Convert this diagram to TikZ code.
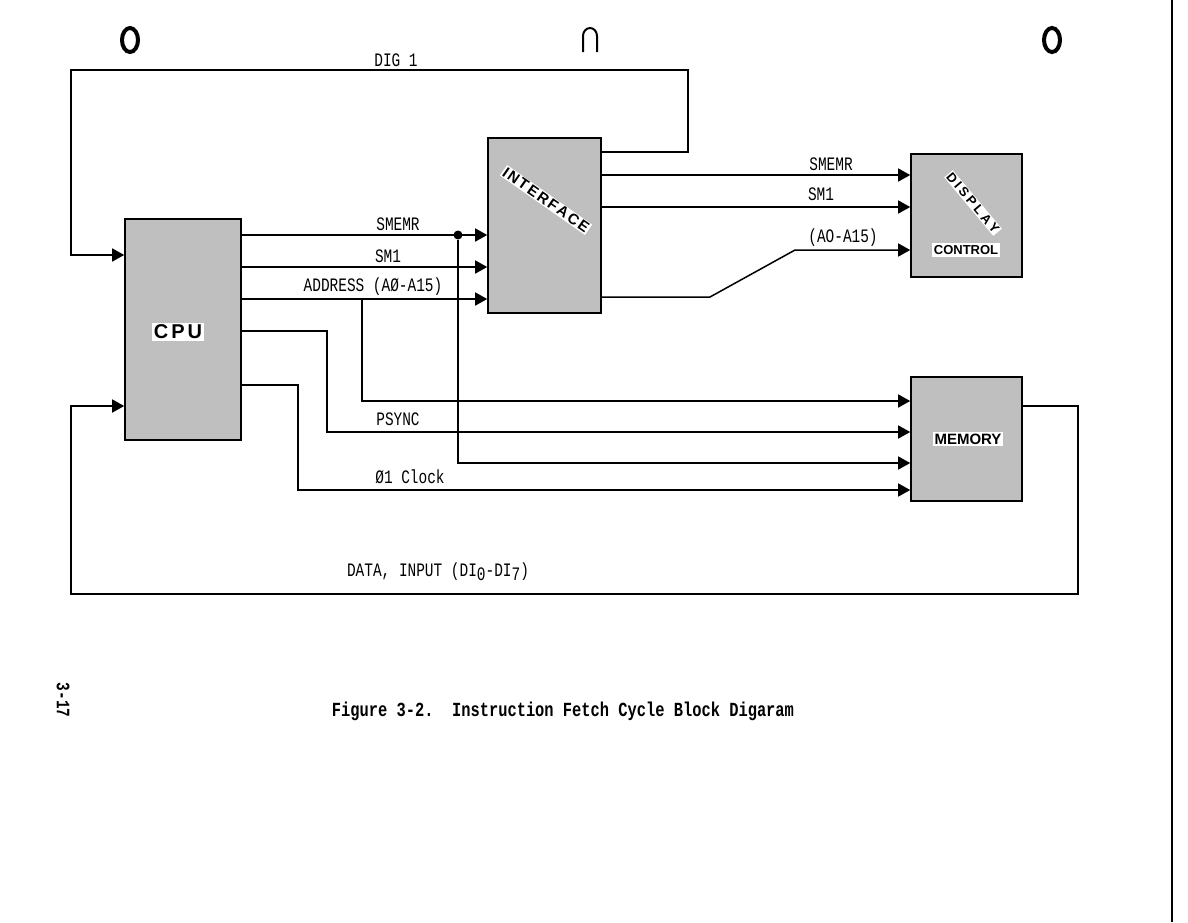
\documentclass[tikz,border=0pt]{standalone}
\usepackage{fontspec}
\setmainfont{Liberation Sans}
\newfontfamily\sigfont[FakeStretch=0.76]{Liberation Mono}
\newfontfamily\capfont[FakeStretch=0.77]{Liberation Mono}
\newfontfamily\boxfont{Liberation Sans}
\usetikzlibrary{arrows.meta,calc}

\begin{document}
\begin{tikzpicture}[x=1pt,y=-1pt,
  blk/.style={draw,line width=1.6pt,fill=black!25,inner sep=0pt},
  sig/.style={line width=1.5pt},
  arr/.style={sig,-{Triangle[length=12pt,width=13pt]}},
  lab/.style={font=\sigfont\fontsize{19}{21}\selectfont,inner sep=1pt},
  blab/.style={font=\boxfont\bfseries\fontsize{15}{17}\selectfont,fill=white,inner sep=2pt},
  hole/.style={line width=4pt}]
\useasboundingbox (0,0) rectangle (1188,922);
% punch holes and page edge
\draw[hole] (130,40) ellipse (8 and 12);
\draw[line width=2pt] (583,52) -- (583,36) arc (180:360:7 and 8) -- (597,52);
\draw[hole] (1052,40) ellipse (8 and 12);
\draw[line width=1.5pt] (1172,0) -- (1172,922);
% blocks
\node[blk,minimum width=116pt,minimum height=221pt] (cpu) at (183,329.5) {};
\node[blk,minimum width=113pt,minimum height=175pt] (intf) at (544.5,225.5) {};
\node[blk,minimum width=111pt,minimum height=123pt] (disp) at (966.5,215.5) {};
\node[blk,minimum width=111pt,minimum height=124pt] (mem) at (966.5,439) {};
\node[blab,font=\boxfont\bfseries\fontsize{20}{22}\selectfont\addfontfeature{LetterSpace=15}] (cpulab) at (178,332) {CPU};
\node[blab] (memlab) at (968,439) {MEMORY};
\node[blab,font=\boxfont\bfseries\fontsize{13}{15}\selectfont] (ctrllab) at (966,250) {CONTROL};
\node[blab,rotate=-35,inner sep=1pt] (intflab) at (546,200)
  {\foreach \ch in {I,N,T,E,R,F,A,C,E} {\ch\hspace{2pt}}\unskip};
\node[blab,rotate=-50,font=\boxfont\bfseries\fontsize{13}{15}\selectfont,inner sep=1pt] (displab) at (973,203)
  {\foreach \ch in {D,I,S,P,L,A,Y} {\ch\hspace{3pt}}\unskip};
% levels
\coordinate (ydig) at (0,152);
\coordinate (ycin) at (0,255);
\coordinate (ysmr) at (0,235);
\coordinate (ysm1) at (0,267);
\coordinate (yadr) at (0,299);
\coordinate (ydsm) at (0,175);
\coordinate (yds1) at (0,207);
\coordinate (yia) at (0,297);
\coordinate (yda) at (0,250);
\coordinate (yps) at (0,331);
\coordinate (yck) at (0,385);
\coordinate (ydat) at (0,406);
% DIG 1 loop
\coordinate (dg1) at (688,70);
\coordinate (dg2) at (71,70);
\draw[arr] (intf.east |- ydig) -| (dg1) -- (dg2) |- (cpu.west |- ycin);
\node[lab] (diglab) at (396,60) {DIG 1};
% CPU to interface
\node[circle,fill,inner sep=0pt,minimum size=9pt] (dot) at (458,235) {};
\draw[arr] (cpu.east |- ysmr) -- (intf.west |- ysmr);
\draw[arr] (cpu.east |- ysm1) -- (intf.west |- ysm1);
\draw[arr] (cpu.east |- yadr) -- (intf.west |- yadr);
\node[lab] (smrlab) at (398,224) {SMEMR};
\node[lab] (sm1lab) at (388,256) {SM1};
\node[lab] (adrlab) at (373,287) {ADDRESS (AØ-A15)};
% interface to display
\draw[arr] (intf.east |- ydsm) -- (disp.west |- ydsm);
\draw[arr] (intf.east |- yds1) -- (disp.west |- yds1);
\coordinate (bend1) at (710,297);
\coordinate (bend2) at (795,250);
\draw[arr] (intf.east |- yia) -- (bend1) -- (bend2) -- (disp.west |- yda);
\node[lab] (dsmlab) at (831,164) {SMEMR};
\node[lab] (ds1lab) at (821,194) {SM1};
\node[lab] (dalab) at (843,238) {(AO-A15)};
% to memory
\coordinate (tadr) at (362,299);
\coordinate (tps) at (327,0);
\coordinate (tck) at (298,0);
\draw[arr] (tadr) |- (mem.west |- 0,401);
\draw[arr] (cpu.east |- yps) -| (tps |- 0,432) -- (mem.west |- 0,432);
\draw[arr] (dot) |- (mem.west |- 0,463);
\draw[arr] (cpu.east |- yck) -| (tck |- 0,490) -- (mem.west |- 0,490);
\node[lab] (pslab) at (398,419) {PSYNC};
\node[lab] (cklab) at (410,477) {Ø1 Clock};
% data return
\coordinate (dt1) at (1078,594);
\coordinate (dt2) at (71,594);
\draw[arr] (mem.east |- ydat) -| (dt1) -- (dt2) |- (cpu.west |- ydat);
\node[lab] (dtlab) at (438,572) {DATA, INPUT (DI\raisebox{-4pt}{0}-DI\raisebox{-4pt}{7})};
% caption
\node[font=\capfont\bfseries\fontsize{20}{22}\selectfont] (cap) at (563,711) {Figure 3-2.\ \ Instruction Fetch Cycle Block Digaram};
\node[font=\sigfont\bfseries\fontsize{19}{21}\selectfont,rotate=-90] (pg) at (63,700) {3-17};
\end{tikzpicture}
\end{document}
